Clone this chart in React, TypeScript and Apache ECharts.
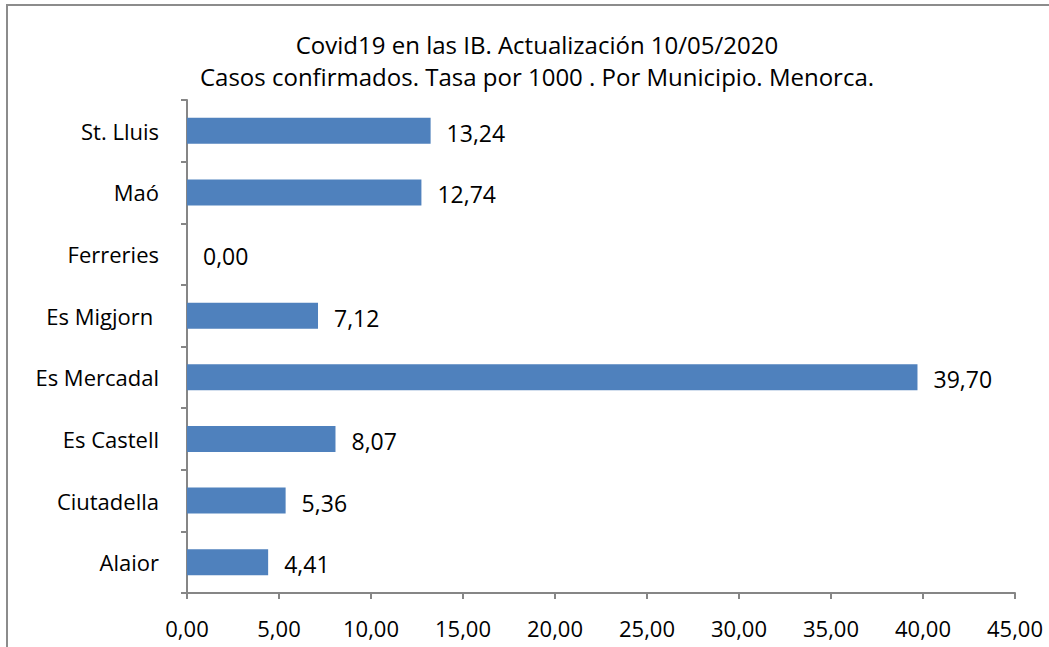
import React, { useEffect, useRef } from "react";
import * as echarts from "echarts";

const categories = ["Alaior", "Ciutadella", "Es Castell", "Es Mercadal", "Es Migjorn ", "Ferreries", "Maó", "St. Lluis"];
const values = [4.41, 5.36, 8.07, 39.7, 7.12, 0.0, 12.74, 13.24];
const titleLines = ["Covid19 en las IB. Actualización 10/05/2020", "Casos confirmados. Tasa por 1000 . Por Municipio. Menorca."];
const xMin = 0;
const xMax = 45;
const xInterval = 5;

const FONT = "Open Sans";
const FS = 22;
const fmt = (v: number) => v.toFixed(2).replace(".", ",");

export default function App() {
  const ref = useRef<HTMLDivElement>(null);
  useEffect(() => {
    if (!ref.current) return;
    const chart = echarts.init(ref.current, undefined, { renderer: "svg" });
    chart.setOption({
      animation: false,
      backgroundColor: "#ffffff",
      textStyle: { fontFamily: FONT },
      title: {
        text: titleLines.join("\n"),
        left: 532,
        top: 23,
        textAlign: "center",
        textStyle: { fontFamily: FONT, fontSize: 24, fontWeight: "normal", color: "#000", lineHeight: 32 },
      },
      graphic: [
        {
          type: "rect",
          shape: { x: 7, y: 5, width: 1100, height: 700 },
          style: { fill: "none", stroke: "#8c8c8c", lineWidth: 2 },
          silent: true,
        },
      ],
      grid: { left: 187, top: 100, right: 34, bottom: 54, containLabel: false },
      xAxis: {
        type: "value",
        min: xMin,
        max: xMax,
        interval: xInterval,
        axisLine: { show: true, lineStyle: { color: "#868686", width: 2 } },
        axisTick: { show: true, length: 6, lineStyle: { color: "#868686", width: 2 } },
        splitLine: { show: false },
        axisLabel: { formatter: (v: number) => fmt(v), color: "#000", fontSize: FS, fontFamily: FONT, margin: 24 },
      },
      yAxis: {
        type: "category",
        data: categories,
        axisLine: { show: true, lineStyle: { color: "#868686", width: 2 } },
        axisTick: { show: true, length: 6, lineStyle: { color: "#868686", width: 2 } },
        axisLabel: { color: "#000", fontSize: FS, fontFamily: FONT, margin: 28 },
      },
      series: [
        {
          type: "bar",
          data: values,
          barWidth: "42%",
          itemStyle: { color: "#4F81BD" },
          label: {
            show: true,
            position: "right",
            distance: 16,
            offset: [0, 2],
            formatter: (p: any) => fmt(p.value),
            color: "#000",
            fontSize: 23,
            fontFamily: FONT,
          },
        },
      ],
    });
    return () => chart.dispose();
  }, []);
  return <div ref={ref} style={{ position: "fixed", left: 0, top: 0, width: 1049, height: 647 }} />;
}
